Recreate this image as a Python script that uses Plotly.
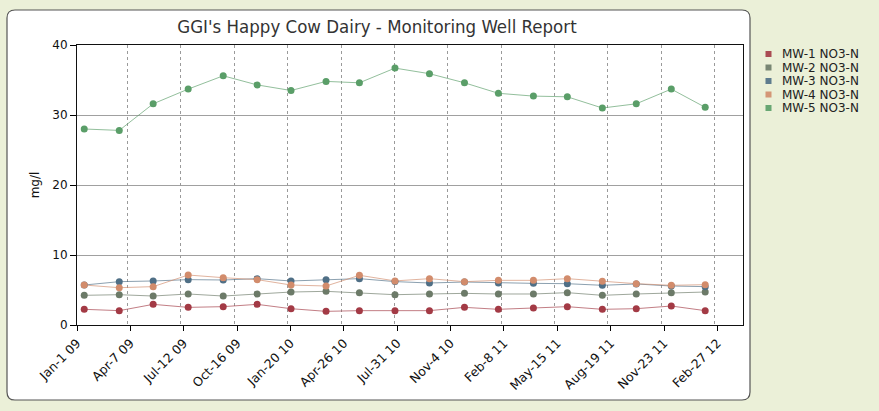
import plotly.graph_objects as go

dates = ["2009-01-14", "2009-03-18", "2009-05-18", "2009-07-20", "2009-09-21",
         "2009-11-21", "2010-01-21", "2010-03-25", "2010-05-24", "2010-07-27",
         "2010-09-27", "2010-11-29", "2011-01-29", "2011-04-02", "2011-06-02",
         "2011-08-04", "2011-10-04", "2011-12-06", "2012-02-05"]

mw1 = [2.24, 2.05, 2.95, 2.52, 2.62, 2.95, 2.33, 1.95, 2.05, 2.05,
       2.05, 2.52, 2.24, 2.43, 2.62, 2.24, 2.33, 2.71, 2.05]
mw2 = [4.24, 4.33, 4.14, 4.43, 4.14, 4.43, 4.71, 4.81, 4.62, 4.33,
       4.43, 4.52, 4.43, 4.43, 4.62, 4.24, 4.43, 4.62, 4.71]
mw3 = [5.71, 6.19, 6.29, 6.48, 6.43, 6.62, 6.29, 6.48, 6.62, 6.2,
       6.0, 6.14, 6.0, 5.95, 5.9, 5.67, 5.86, 5.57, 5.48]
mw4 = [5.71, 5.33, 5.48, 7.14, 6.76, 6.48, 5.71, 5.57, 7.1, 6.3,
       6.62, 6.19, 6.38, 6.38, 6.62, 6.24, 5.9, 5.67, 5.76]
mw5 = [28.0, 27.8, 31.6, 33.7, 35.6, 34.3, 33.5, 34.8, 34.6, 36.7,
       35.9, 34.6, 33.1, 32.7, 32.6, 31.0, 31.6, 33.7, 31.1]

series_names = ["MW-1 NO3-N", "MW-2 NO3-N", "MW-3 NO3-N", "MW-4 NO3-N", "MW-5 NO3-N"]
series_values = [mw1, mw2, mw3, mw4, mw5]
series_colors = ["#A33A45", "#6C7A68", "#4F6F86", "#D28C6C", "#5A9E68"]

tick_dates = ["2009-01-01", "2009-04-07", "2009-07-12", "2009-10-16", "2010-01-20",
              "2010-04-26", "2010-07-31", "2010-11-04", "2011-02-08", "2011-05-15",
              "2011-08-19", "2011-11-23", "2012-02-27"]
tick_labels = ["Jan-1 09", "Apr-7 09", "Jul-12 09", "Oct-16 09", "Jan-20 10",
               "Apr-26 10", "Jul-31 10", "Nov-4 10", "Feb-8 11", "May-15 11",
               "Aug-19 11", "Nov-23 11", "Feb-27 12"]

W, H = 879, 411
L, R, T, B = 77, 136, 45, 86
pw, ph = W - L - R, H - T - B

FONT = "DejaVu Sans, Verdana, sans-serif"


def px2paper_x(p):
    return (p - L) / pw


def px2paper_y(p):
    return (H - B - p) / ph


fig = go.Figure()

for name, vals, col in zip(series_names, series_values, series_colors):
    fig.add_trace(go.Scatter(
        x=dates, y=vals, mode="lines", name=name, showlegend=False,
        line=dict(color=col, width=1), opacity=0.65, hoverinfo="skip"))
for name, vals, col in zip(series_names, series_values, series_colors):
    fig.add_trace(go.Scatter(
        x=dates, y=vals, mode="markers", name=name, showlegend=False,
        marker=dict(color=col, size=7)))

# overlay axis carrying the (slightly offset) dashed vertical grid lines
fig.add_trace(go.Scatter(x=tick_dates, y=[None] * len(tick_dates), xaxis="x2",
                         showlegend=False, hoverinfo="skip", mode="markers"))

# rounded white panel
x0, x1 = px2paper_x(7), px2paper_x(750)
y0, y1 = px2paper_y(400), px2paper_y(10)
rx, ry = 8 / pw, 8 / ph
path = (f"M {x0+rx},{y1} L {x1-rx},{y1} Q {x1},{y1} {x1},{y1-ry} "
        f"L {x1},{y0+ry} Q {x1},{y0} {x1-rx},{y0} "
        f"L {x0+rx},{y0} Q {x0},{y0} {x0},{y0+ry} "
        f"L {x0},{y1-ry} Q {x0},{y1} {x0+rx},{y1} Z")
shapes = [dict(type="path", path=path, xref="paper", yref="paper",
               fillcolor="white", line=dict(color="#555", width=1.2), layer="below")]

# legend drawn as small squares + text
annotations = []
for i, (name, col) in enumerate(zip(series_names, series_colors)):
    yc = 54 + 13.5 * i
    shapes.append(dict(type="rect", xref="paper", yref="paper",
                       x0=px2paper_x(765.5), x1=px2paper_x(771.5),
                       y0=px2paper_y(yc + 3), y1=px2paper_y(yc - 3),
                       fillcolor=col, line=dict(width=0), opacity=0.9))
    annotations.append(dict(text=name, xref="paper", yref="paper",
                            x=px2paper_x(780), y=px2paper_y(yc), xanchor="left",
                            yanchor="middle", showarrow=False,
                            font=dict(family=FONT, size=12, color="#222")))

fig.update_layout(
    width=W, height=H,
    margin=dict(l=L, r=R, t=T, b=B, pad=0),
    paper_bgcolor="#EBF0D8",
    plot_bgcolor="white",
    font=dict(family=FONT, size=12, color="#111"),
    showlegend=False,
    title=dict(text="GGI's Happy Cow Dairy - Monitoring Well Report",
               x=377 / W, xanchor="center", y=1 - 27 / H, yanchor="middle",
               font=dict(family="DejaVu Sans Condensed, DejaVu Sans, sans-serif",
                         size=18.5, color="#333")),
    shapes=shapes,
    annotations=annotations,
    xaxis=dict(
        type="date", range=["2009-01-01", "2012-04-13"],
        tickvals=tick_dates, ticktext=tick_labels, tickangle=-45,
        ticks="outside", ticklen=5, tickcolor="#000",
        showgrid=False, showline=True, linecolor="#111", linewidth=1,
        mirror=True, zeroline=False, tickfont=dict(size=12.5)),
    xaxis2=dict(
        type="date", overlaying="x", range=["2009-01-06", "2012-04-18"],
        tickvals=tick_dates, showticklabels=False, ticks="",
        showgrid=True, gridcolor="#9a9a9a", griddash="3px,3px", gridwidth=1,
        showline=False, zeroline=False),
    yaxis=dict(
        range=[0, 40], tickvals=[0, 10, 20, 30, 40],
        ticks="outside", ticklen=6, tickcolor="#000",
        showgrid=True, gridcolor="#a0a0a0", gridwidth=1,
        showline=True, linecolor="#111", linewidth=1, mirror=True,
        zeroline=False, title=dict(text="mg/l", standoff=10, font=dict(size=12))),
)

fig.write_html("out.html", config={"displayModeBar": False},
               post_script="document.body.style.margin='0';document.body.style.overflow='hidden';")
